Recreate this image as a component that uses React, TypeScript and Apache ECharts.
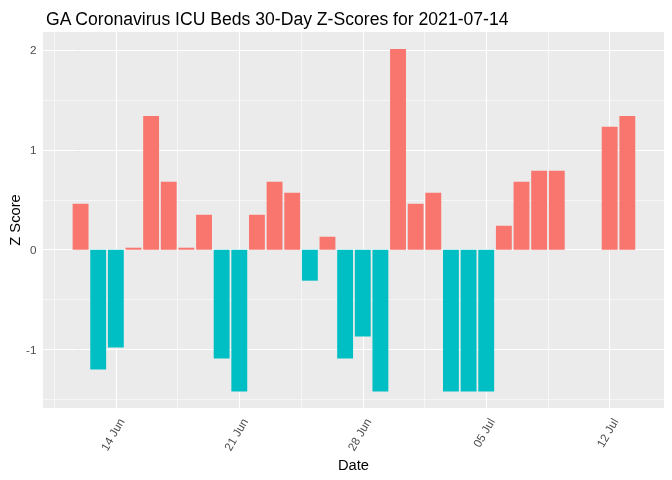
import React, { useEffect, useRef } from "react";
import * as echarts from "echarts";

const dates = [
  "2021-06-12", "2021-06-13", "2021-06-14", "2021-06-15", "2021-06-16", "2021-06-17",
  "2021-06-18", "2021-06-19", "2021-06-20", "2021-06-21", "2021-06-22", "2021-06-23",
  "2021-06-24", "2021-06-25", "2021-06-26", "2021-06-27", "2021-06-28", "2021-06-29",
  "2021-06-30", "2021-07-01", "2021-07-02", "2021-07-03", "2021-07-04", "2021-07-05",
  "2021-07-06", "2021-07-07", "2021-07-08", "2021-07-09", "2021-07-10", "2021-07-11",
  "2021-07-12", "2021-07-13",
];
const zScores = [
  0.46, -1.2, -0.98, 0.02, 1.34, 0.68, 0.02, 0.35, -1.09, -1.42, 0.35, 0.68,
  0.57, -0.31, 0.13, -1.09, -0.87, -1.42, 2.01, 0.46, 0.57, -1.42, -1.42, -1.42,
  0.24, 0.68, 0.79, 0.79, 0, 0, 1.23, 1.34,
];
const xTickDates = ["2021-06-14", "2021-06-21", "2021-06-28", "2021-07-05", "2021-07-12"];
const xTickLabels = ["14 Jun", "21 Jun", "28 Jun", "05 Jul", "12 Jul"];
const yTicks = [-1, 0, 1, 2];
const yMinor = [-1.5, -0.5, 0.5, 1.5];

const POS = "#F8766D";
const NEG = "#00BFC4";

const dayIndex = (d: string) => {
  const [y, m, dd] = d.split("-").map(Number);
  const [y0, m0, d0] = dates[0].split("-").map(Number);
  return Math.round((Date.UTC(y, m - 1, dd) - Date.UTC(y0, m0 - 1, d0)) / 86400000);
};

export default function App() {
  const ref = useRef<HTMLDivElement>(null);
  useEffect(() => {
    if (!ref.current) return;
    const chart = echarts.init(ref.current, null, { renderer: "svg" });
    const gridLeft = 43, gridRight = 8, gridTop = 32, gridBottom = 72;
    const xMin = -2.13, xMax = 33.08, yMin = -1.585, yMax = 2.18;
    const plotW = 672 - gridLeft - gridRight;
    const barW = (0.9 * plotW) / (xMax - xMin);
    const xTickIdx = xTickDates.map(dayIndex);
    const xMinor: number[] = [];
    xTickIdx.forEach((t) => xMinor.push(t - 3.5));
    xMinor.push(xTickIdx[xTickIdx.length - 1] + 3.5);
    const xMinorIn = xMinor.filter((v) => v > xMin && v < xMax);
    const labelFont = "Liberation Sans, Arial, sans-serif";

    const mk = (axis: "xAxis" | "yAxis", vals: number[], w: number) =>
      vals.map((v) => ({ [axis]: v, lineStyle: { color: "#FFFFFF", width: w, type: "solid" } }));

    chart.setOption({
      animation: false,
      title: {
        text: "GA Coronavirus ICU Beds 30-Day Z-Scores for 2021-07-14",
        left: 41,
        top: 5,
        textStyle: { fontFamily: labelFont, fontSize: 17.6, fontWeight: "normal", color: "#000000" },
      },
      grid: {
        left: gridLeft, right: gridRight, top: gridTop, bottom: gridBottom,
        show: true, backgroundColor: "#EBEBEB", borderWidth: 0,
      },
      xAxis: {
        type: "value",
        min: xMin,
        max: xMax,
        axisLine: { show: false },
        splitLine: { show: false },
        axisTick: { show: true, customValues: xTickIdx, length: 3.7, lineStyle: { color: "#333333", width: 1.07 } },
        axisLabel: {
          customValues: xTickIdx,
          rotate: 60,
          margin: 8,
          verticalAlign: "top",
          color: "#4D4D4D",
          fontSize: 11.7,
          fontFamily: labelFont,
          formatter: (v: number) => {
            const i = xTickIdx.indexOf(Math.round(v));
            return i >= 0 ? xTickLabels[i] : "";
          },
        },
      },
      yAxis: {
        type: "value",
        min: yMin,
        max: yMax,
        axisLine: { show: false },
        splitLine: { show: false },
        axisTick: { show: true, customValues: yTicks, length: 3.7, lineStyle: { color: "#333333", width: 1.07 } },
        axisLabel: {
          customValues: yTicks,
          margin: 6.5,
          color: "#4D4D4D",
          fontSize: 11.7,
          fontFamily: labelFont,
          formatter: (v: number) => String(Math.round(v)),
        },
      },
      graphic: [
        {
          type: "text",
          x: (gridLeft + 672 - gridRight) / 2,
          y: 465,
          style: { text: "Date", fontSize: 14.7, fontFamily: labelFont, fill: "#000000", align: "center", verticalAlign: "middle" },
        },
        {
          type: "text",
          x: 15,
          y: (gridTop + 480 - gridBottom) / 2,
          rotation: Math.PI / 2,
          style: { text: "Z Score", fontSize: 14.7, fontFamily: labelFont, fill: "#000000", align: "center", verticalAlign: "middle" },
        },
      ],
      series: [
        {
          type: "line",
          data: [],
          z: 1,
          silent: true,
          markLine: {
            z: 1,
            silent: true,
            symbol: "none",
            label: { show: false },
            animation: false,
            data: [
              ...mk("yAxis", yMinor, 0.55),
              ...mk("xAxis", xMinorIn, 0.55),
              ...mk("yAxis", yTicks, 1.1),
              ...mk("xAxis", xTickIdx, 1.1),
            ],
          },
        },
        {
          type: "bar",
          z: 3,
          barWidth: barW,
          data: dates.map((d, i) => ({
            value: [dayIndex(d), zScores[i]],
            itemStyle: { color: zScores[i] > 0 ? POS : NEG },
          })),
        },
      ],
    });
    return () => chart.dispose();
  }, []);
  return <div ref={ref} style={{ position: "fixed", left: 0, top: 0, width: 672, height: 480 }} />;
}
